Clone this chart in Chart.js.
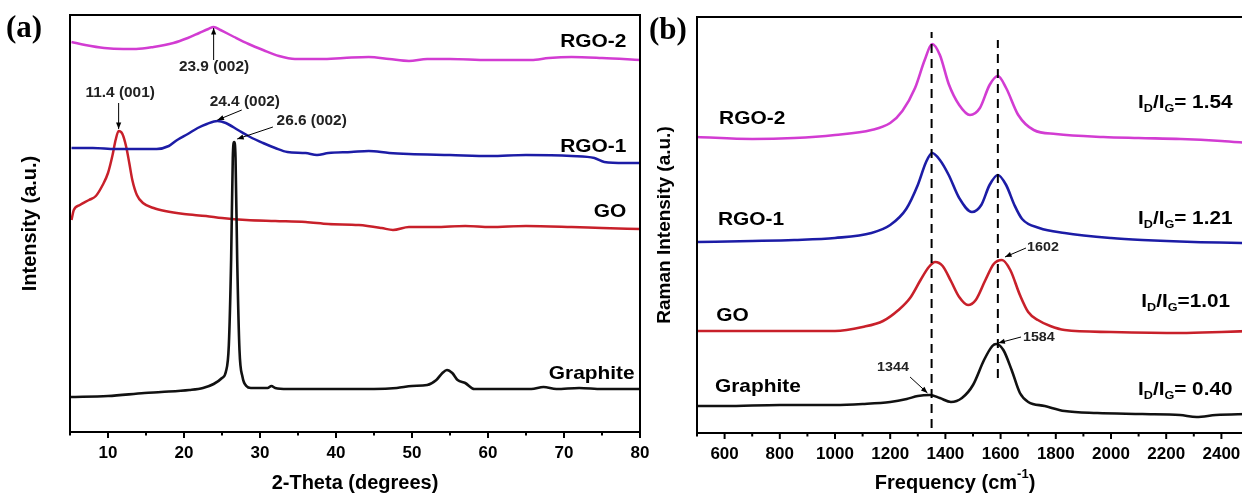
<!DOCTYPE html>
<html><head><meta charset="utf-8">
<script src="https://cdn.jsdelivr.net/npm/chart.js@4.4.0/dist/chart.umd.min.js"></script>
<style>
html,body{margin:0;padding:0;width:1242px;height:498px;overflow:hidden;background:#fff;}
#wa{position:absolute;left:0;top:0;width:665px;height:498px;}
#wb{position:absolute;left:640px;top:0;width:615px;height:498px;}
.pl{position:absolute;font-family:"Liberation Serif","Times New Roman",serif;font-weight:bold;font-size:31px;color:#000;line-height:1;}
</style></head><body>
<div id="wa"><canvas id="ca" width="665" height="498"></canvas></div>
<div id="wb"><canvas id="cb" width="615" height="498"></canvas></div>
<div class="pl" style="left:6px;top:11px">(a)</div>
<div class="pl" style="left:649px;top:13px">(b)</div>
<script>
// ---------- Panel (a): XRD ----------
const xrdTickVals = [5,10,15,20,25,30,35,40,45,50,55,60,65,70,75,80];

const rgo2Theta = [5.2,7,9.5,12,13.7,16,18.6,20.5,22,23.2,23.9,24.8,26.6,28.5,30.4,32.5,34.6,38,41,44.3,47,49.6,52,55,60,65.7,68,71,75,80];
const rgo2Xrd   = [390,387,384,383,383,385,389,394,399,403,405,402,395,388,382,376,373,373,374,375,373,371,373,373,372,372,374,375,374,372];

const rgo1Theta = [5.2,8,11,13.7,16.4,18,19.1,20.5,21.8,23,24.4,25.5,27.1,28.7,30.4,32,33.6,36,37.5,39,42,44.3,47,49.6,55,60.3,65,71,74,75.3,78,80];
const rgo1Xrd   = [284,284,283,283,283,286,292,298,304,308,311,309,302,295,289,284,280,279,277,279,280,281,279,278,277,276,277,276,274,270,269,269];

const goTheta = [5.2,5.5,6.3,7.5,8.4,9.3,10,10.6,11,11.4,11.9,12.4,12.8,13.2,13.8,14.6,16,17.5,20,22.9,25,28.2,32,36,39,43,46,47.5,49.6,53,57,60.3,65,71,75,80];
const goXrd   = [212,222,227,232,236,247,259,277,292,301,298,285,269,252,237,229,224,221,218,216,214,212,211,210,208,207,204,202,205,205,206,205,206,205,204,203];

const grTheta = [5,10,14.8,17,20.7,22.5,23.9,25,25.5,25.9,26.2,26.42,26.6,26.78,27,27.3,27.7,28.2,28.8,31,31.5,32,33.6,40,45,48,50,52,53.2,54,54.6,55.3,56,57,58.2,60,65.7,67.3,69,72,75,80];
const grXrd   = [35,36,39,40,42,44,48,54,60,87,172,274,290,274,172,82,55,46,44,44,46,44,43,43,43,44,46,47,52,59,62,59,52,49,43,43,43,45,43,44,43,43];

// ---------- Panel (b): Raman ----------
const ramanTickVals = [500,600,700,800,900,1000,1100,1200,1300,1400,1500,1600,1700,1800,1900,2000,2100,2200,2300,2400,2500];

const grFreq  = [500,600,800,1000,1100,1200,1260,1300,1344,1380,1420,1460,1500,1540,1570,1584,1610,1640,1670,1700,1760,1832,1950,2113,2250,2310,2380,2500];
const grRaman = [27,27,28,28,29,31,34,37,38,35,31,35,48,73,87,89,83,63,40,31,27,22,20,19,18,16,18,19];

const goFreq  = [500,700,900,1000,1100,1174,1230,1272,1310,1340,1363,1390,1420,1450,1482,1510,1545,1575,1605,1635,1670,1700,1735,1780,1832,2000,2253,2400,2500];
const goRaman = [102,102,102,102,106,112,123,135,153,166,171,167,152,136,128,133,153,169,173,163,138,121,113,107,103,101,100,101,102];

const rgo1Freq  = [500,700,852,1000,1132,1200,1258,1300,1330,1352,1380,1412,1450,1496,1530,1560,1590,1620,1650,1678,1740,1832,2000,2113,2300,2500];
const rgo1Raman = [191,192,193,195,200,208,224,248,271,280,273,258,235,221,228,248,258,248,228,214,205,200,195,193,191,190];

const rgo2Freq  = [500,700,852,1000,1132,1200,1244,1290,1325,1352,1380,1412,1450,1489,1525,1560,1590,1620,1664,1720,1800,1972,2100,2253,2400,2500];
const rgo2Raman = [296,294,295,298,303,310,322,345,373,389,378,349,328,318,325,348,357,345,318,303,299,296,295,294,292,290];

const dBandFreq = [1350,1350];
const dBandSpan = [5,401];
const gBandFreq = [1590,1590];
const gBandSpan = [55,393];

const ratioLabels = ['= 1.54','= 1.21','=1.01','= 0.40'];

// ---------- helpers ----------
const FAM = '"Liberation Sans", Arial, Helvetica, sans-serif';
Chart.defaults.font.family = FAM;
Chart.defaults.color = '#000';
const pts = (xs, ys) => xs.map((v, i) => ({x: v, y: ys[i]}));
const C_MAG = '#d23cd2', C_BLUE = '#1c1ca6', C_RED = '#c8202a', C_BLK = '#111';
const STRETCH = 1.1;

function line(ctx, x1, y1, x2, y2) { ctx.beginPath(); ctx.moveTo(x1, y1); ctx.lineTo(x2, y2); ctx.stroke(); }
function arrow(ctx, x1, y1, x2, y2, head) {
  line(ctx, x1, y1, x2, y2);
  const a = Math.atan2(y2 - y1, x2 - x1);
  ctx.beginPath(); ctx.moveTo(x2, y2);
  ctx.lineTo(x2 - head * Math.cos(a - 0.38), y2 - head * Math.sin(a - 0.38));
  ctx.lineTo(x2 - head * Math.cos(a + 0.38), y2 - head * Math.sin(a + 0.38));
  ctx.closePath(); ctx.fill();
}
// text drawn with a slight horizontal stretch (the source figure is widened)
function sText(ctx, t, x, y, align) {
  ctx.save();
  ctx.translate(x, y); ctx.scale(STRETCH, 1);
  ctx.textAlign = align || 'left';
  ctx.fillText(t, 0, 0);
  ctx.restore();
}
function ds(data, color, w) {
  return {data, borderColor: color, borderWidth: w || 2.5, pointRadius: 0, fill: false, cubicInterpolationMode: 'monotone'};
}
function frameAndTicks(chart, vals, isMajor) {
  const {ctx, chartArea: ca, scales: {x}} = chart;
  ctx.save();
  ctx.strokeStyle = '#000'; ctx.lineWidth = 2;
  ctx.strokeRect(ca.left, ca.top, ca.right - ca.left, ca.bottom - ca.top);
  vals.forEach(v => {
    const px = x.getPixelForValue(v);
    line(ctx, px, ca.bottom, px, ca.bottom + (isMajor(v) ? 6 : 3.5));
  });
  ctx.restore();
}

// ---------- chart (a) ----------
const decorA = {
  id: 'decorA',
  afterDraw(chart) {
    frameAndTicks(chart, xrdTickVals, v => v % 10 === 0);
    const {ctx, scales: {x, y}} = chart;
    ctx.save();
    ctx.fillStyle = '#000'; ctx.strokeStyle = '#000';
    ctx.font = 'bold 19px ' + FAM; ctx.textBaseline = 'middle';
    sText(ctx, 'RGO-2', x.getPixelForValue(78.2), y.getPixelForValue(390), 'right');
    sText(ctx, 'RGO-1', x.getPixelForValue(78.2), y.getPixelForValue(285), 'right');
    sText(ctx, 'GO', x.getPixelForValue(78.2), y.getPixelForValue(220), 'right');
    sText(ctx, 'Graphite', x.getPixelForValue(79.3), y.getPixelForValue(58), 'right');
    ctx.font = 'bold 14px ' + FAM; ctx.fillStyle = '#222';
    sText(ctx, '23.9 (002)', x.getPixelForValue(23.95), y.getPixelForValue(365), 'center');
    sText(ctx, '11.4 (001)', x.getPixelForValue(11.6), y.getPixelForValue(339), 'center');
    sText(ctx, '24.4 (002)', x.getPixelForValue(28.0), y.getPixelForValue(330), 'center');
    sText(ctx, '26.6 (002)', x.getPixelForValue(36.8), y.getPixelForValue(311), 'center');
    ctx.lineWidth = 1; ctx.fillStyle = '#000';
    arrow(ctx, x.getPixelForValue(23.9), y.getPixelForValue(372), x.getPixelForValue(23.9), y.getPixelForValue(404), 7);
    arrow(ctx, x.getPixelForValue(11.4), y.getPixelForValue(329), x.getPixelForValue(11.4), y.getPixelForValue(303), 7);
    arrow(ctx, x.getPixelForValue(27.6), y.getPixelForValue(322), x.getPixelForValue(24.4), y.getPixelForValue(312), 7);
    arrow(ctx, x.getPixelForValue(31.7), y.getPixelForValue(305), x.getPixelForValue(27.0), y.getPixelForValue(293), 7);
    ctx.restore();
  }
};

new Chart(document.getElementById('ca'), {
  type: 'line',
  data: {datasets: [
    ds(pts(grTheta, grXrd), C_BLK, 2.6),
    ds(pts(rgo2Theta, rgo2Xrd), C_MAG),
    ds(pts(rgo1Theta, rgo1Xrd), C_BLUE),
    ds(pts(goTheta, goXrd), C_RED)
  ]},
  options: {
    responsive: false, animation: false, devicePixelRatio: 1,
    layout: {padding: {left: 0, top: 15, right: 25, bottom: 0}},
    plugins: {legend: {display: false}, tooltip: {enabled: false}},
    scales: {
      x: {
        type: 'linear', min: 5, max: 80,
        afterBuildTicks: s => { s.ticks = xrdTickVals.map(v => ({value: v})); },
        afterFit: s => { s.height = 66; },
        ticks: {autoSkip: false, maxRotation: 0, padding: 5, color: '#000', font: {weight: 'bold', size: 17},
                callback: v => (v % 10 === 0 ? String(v) : '')},
        grid: {display: true, drawOnChartArea: false, drawTicks: true, tickLength: 6, tickColor: 'rgba(0,0,0,0)'},
        border: {display: true, color: '#000', width: 2},
        title: {display: true, text: '2-Theta (degrees)', color: '#000', font: {weight: 'bold', size: 20}, padding: {top: 0, bottom: 3}}
      },
      y: {
        min: 0, max: 417,
        afterFit: s => { s.width = 70; },
        ticks: {display: false}, grid: {display: false}, border: {display: false},
        title: {display: true, text: 'Intensity (a.u.)', color: '#000', font: {weight: 'bold', size: 20}, padding: {top: 18, bottom: 0}}
      }
    }
  },
  plugins: [decorA]
});

// ---------- chart (b) ----------
function drawRatio(ctx, px, py, tail) {
  const big = 'bold 18px ' + FAM, small = 'bold 11px ' + FAM;
  ctx.save();
  ctx.translate(px, py); ctx.scale(STRETCH + 0.05, 1);
  ctx.textAlign = 'left'; ctx.textBaseline = 'middle';
  let cx = 0;
  const put = (t, f, dy) => { ctx.font = f; ctx.fillText(t, cx, dy); cx += ctx.measureText(t).width; };
  put('I', big, 0); put('D', small, 6); put('/I', big, 0); put('G', small, 6); put(tail, big, 0);
  ctx.restore();
}
const decorB = {
  id: 'decorB',
  afterDraw(chart) {
    frameAndTicks(chart, ramanTickVals, v => v % 200 === 0);
    const {ctx, scales: {x, y}} = chart;
    ctx.save();
    ctx.fillStyle = '#000'; ctx.strokeStyle = '#000';
    ctx.font = 'bold 19px ' + FAM; ctx.textBaseline = 'middle';
    sText(ctx, 'RGO-2', x.getPixelForValue(580), y.getPixelForValue(314));
    sText(ctx, 'RGO-1', x.getPixelForValue(576), y.getPixelForValue(213));
    sText(ctx, 'GO', x.getPixelForValue(570), y.getPixelForValue(117));
    sText(ctx, 'Graphite', x.getPixelForValue(565), y.getPixelForValue(46));
    const rx = x.getPixelForValue(2098);
    drawRatio(ctx, rx, y.getPixelForValue(330), ratioLabels[0]);
    drawRatio(ctx, rx, y.getPixelForValue(214), ratioLabels[1]);
    drawRatio(ctx, x.getPixelForValue(2110), y.getPixelForValue(131), ratioLabels[2]);
    drawRatio(ctx, rx, y.getPixelForValue(43), ratioLabels[3]);
    ctx.font = 'bold 13px ' + FAM; ctx.fillStyle = '#222';
    sText(ctx, '1602', x.getPixelForValue(1696), y.getPixelForValue(186));
    sText(ctx, '1584', x.getPixelForValue(1681), y.getPixelForValue(96));
    sText(ctx, '1344', x.getPixelForValue(1210), y.getPixelForValue(66), 'center');
    ctx.lineWidth = 1; ctx.fillStyle = '#000';
    arrow(ctx, x.getPixelForValue(1692), y.getPixelForValue(185), x.getPixelForValue(1616), y.getPixelForValue(176), 7);
    arrow(ctx, x.getPixelForValue(1674), y.getPixelForValue(96), x.getPixelForValue(1592), y.getPixelForValue(90), 7);
    arrow(ctx, x.getPixelForValue(1272), y.getPixelForValue(56), x.getPixelForValue(1335), y.getPixelForValue(40), 7);
    // x-axis title with superscript
    const ty = 483, tx = x.getPixelForValue(1435);
    ctx.fillStyle = '#000'; ctx.textBaseline = 'middle'; ctx.textAlign = 'left';
    const big = 'bold 20px ' + FAM, sup = 'bold 13px ' + FAM;
    ctx.font = big; const w1 = ctx.measureText('Frequency (cm').width, w3 = ctx.measureText(')').width;
    ctx.font = sup; const w2 = ctx.measureText('-1').width;
    let cx = tx - (w1 + w2 + w3) / 2;
    ctx.font = big; ctx.fillText('Frequency (cm', cx, ty); cx += w1;
    ctx.font = sup; ctx.fillText('-1', cx, ty - 9); cx += w2;
    ctx.font = big; ctx.fillText(')', cx, ty);
    ctx.restore();
  }
};

new Chart(document.getElementById('cb'), {
  type: 'line',
  data: {datasets: [
    Object.assign(ds(pts(dBandFreq, dBandSpan), '#000', 2), {borderDash: [9, 6], cubicInterpolationMode: 'default', tension: 0}),
    Object.assign(ds(pts(gBandFreq, gBandSpan), '#000', 2), {borderDash: [9, 6], cubicInterpolationMode: 'default', tension: 0}),
    ds(pts(grFreq, grRaman), C_BLK, 2.6),
    ds(pts(goFreq, goRaman), C_RED, 2.6),
    ds(pts(rgo1Freq, rgo1Raman), C_BLUE, 2.6),
    ds(pts(rgo2Freq, rgo2Raman), C_MAG, 2.6)
  ]},
  options: {
    responsive: false, animation: false, devicePixelRatio: 1,
    layout: {padding: {left: 0, top: 17, right: 6, bottom: 0}},
    plugins: {legend: {display: false}, tooltip: {enabled: false}},
    scales: {
      x: {
        type: 'linear', min: 500, max: 2500,
        afterBuildTicks: s => { s.ticks = ramanTickVals.map(v => ({value: v})); },
        afterFit: s => { s.height = 65; },
        ticks: {autoSkip: false, maxRotation: 0, padding: 5, color: '#000', font: {weight: 'bold', size: 17},
                callback: v => (v % 200 === 0 && v < 2500 ? String(v) : '')},
        grid: {display: true, drawOnChartArea: false, drawTicks: true, tickLength: 6, tickColor: 'rgba(0,0,0,0)'},
        border: {display: true, color: '#000', width: 2},
        title: {display: false}
      },
      y: {
        min: 0, max: 416,
        afterFit: s => { s.width = 57; },
        ticks: {display: false}, grid: {display: false}, border: {display: false},
        title: {display: true, text: 'Raman Intensity (a.u.)', color: '#000', font: {weight: 'bold', size: 19}, padding: {top: 13, bottom: 0}}
      }
    }
  },
  plugins: [decorB]
});
</script>
</body></html>
